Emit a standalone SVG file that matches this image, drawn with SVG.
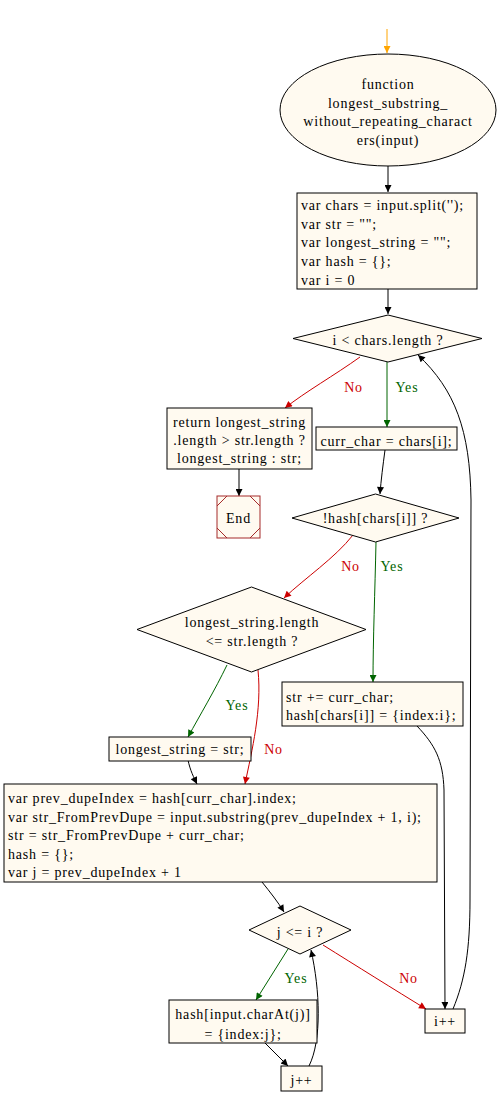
<svg xmlns="http://www.w3.org/2000/svg" width="497" height="1105" viewBox="0 0 497 1105">
<style>
text{font-family:"Liberation Serif","Times New Roman",serif;font-size:14px;letter-spacing:0.8px;fill:#000}
.n{fill:#fffaf0;stroke:#000;stroke-width:1}
.c{text-anchor:middle}
.e{fill:none;stroke:#000;stroke-width:1}
.r{stroke:#cc0000}
.g{stroke:#006400}
.o{stroke:#ffa500}
.lr{fill:#cc0000}
.lg{fill:#006400}
</style>
<defs>
<marker id="ak" viewBox="0 0 10 10" refX="10" refY="5" markerWidth="10" markerHeight="7" orient="auto" markerUnits="userSpaceOnUse"><path d="M0,0 L10,5 L0,10 z" fill="#000"/></marker>
<marker id="ar" viewBox="0 0 10 10" refX="10" refY="5" markerWidth="10" markerHeight="7" orient="auto" markerUnits="userSpaceOnUse"><path d="M0,0 L10,5 L0,10 z" fill="#cc0000"/></marker>
<marker id="ag" viewBox="0 0 10 10" refX="10" refY="5" markerWidth="10" markerHeight="7" orient="auto" markerUnits="userSpaceOnUse"><path d="M0,0 L10,5 L0,10 z" fill="#006400"/></marker>
<marker id="ao" viewBox="0 0 10 10" refX="10" refY="5" markerWidth="10" markerHeight="7" orient="auto" markerUnits="userSpaceOnUse"><path d="M0,0 L10,5 L0,10 z" fill="#ffa500"/></marker>
</defs>
<rect width="497" height="1105" fill="#fff"/>
<g id="connectors">
<path class="e o" d="M387,29 L387,53" marker-end="url(#ao)"/>
<path class="e" d="M388,166 L388,192" marker-end="url(#ak)"/>
<path class="e" d="M388,289 L388,314" marker-end="url(#ak)"/>
<path class="e r" d="M360,357 C335,375 305,392 285,408" marker-end="url(#ar)"/>
<path class="e g" d="M387,362 L387,427" marker-end="url(#ag)"/>
<path class="e" d="M239,469 L239,496" marker-end="url(#ak)"/>
<path class="e" d="M385,450 C383,465 381,480 380,494" marker-end="url(#ak)"/>
<path class="e r" d="M353,535 C335,558 305,578 284,598" marker-end="url(#ar)"/>
<path class="e g" d="M376,542 C375,590 373,640 373,682" marker-end="url(#ag)"/>
<path class="e g" d="M227,665 C215,690 200,715 188,737" marker-end="url(#ag)"/>
<path class="e r" d="M258,670 C262,710 252,750 245,784" marker-end="url(#ar)"/>
<path class="e" d="M188,760 C190,770 194,778 197,784" marker-end="url(#ak)"/>
<path class="e" d="M417,726 C435,745 443,760 444,790 L445,1009" marker-end="url(#ak)"/>
<path class="e" d="M262,882 C270,892 278,902 284,912" marker-end="url(#ak)"/>
<path class="e g" d="M288,949 L256,1000" marker-end="url(#ag)"/>
<path class="e r" d="M323,945 C355,965 395,990 426,1009" marker-end="url(#ar)"/>
<path class="e" d="M265,1043 L288,1066" marker-end="url(#ak)"/>
<path class="e" d="M309,1066 C322,1040 320,990 311,950" marker-end="url(#ak)"/>
<path class="e" d="M453,1009 C465,980 470,950 470,900 L471,500 C470,430 455,390 418,355" marker-end="url(#ak)"/>
<text class="c lr" x="353.5" y="392">No</text>
<text class="c lg" x="407" y="392">Yes</text>
<text class="c lr" x="350.5" y="571">No</text>
<text class="c lg" x="392" y="571">Yes</text>
<text class="c lg" x="237" y="710">Yes</text>
<text class="c lr" x="273.5" y="754">No</text>
<text class="c lg" x="296" y="983">Yes</text>
<text class="c lr" x="408.5" y="983">No</text>
</g>
<g id="start">
<ellipse class="n" cx="388" cy="110" rx="108" ry="56"/>
<text class="c" x="388" y="89">function</text>
<text class="c" x="388" y="108">longest_substring_</text>
<text class="c" x="388" y="126">without_repeating_charact</text>
<text class="c" x="388" y="145">ers(input)</text>
</g>
<g id="init">
<rect class="n" x="297" y="193" width="180" height="96"/>
<text x="301" y="210">var chars = input.split('');</text>
<text x="301" y="229">var str = "";</text>
<text x="301" y="247">var longest_string = "";</text>
<text x="301" y="266">var hash = {};</text>
<text x="301" y="285">var i = 0</text>
</g>
<g id="cond1">
<polygon class="n" points="388,315 482,338.5 388,362 293,338.5"/>
<text class="c" x="388" y="345">i &lt; chars.length ?</text>
</g>
<g id="ret">
<rect class="n" x="167" y="408" width="145" height="61"/>
<text class="c" x="239.5" y="427">return longest_string</text>
<text class="c" x="239.5" y="445">.length &gt; str.length ?</text>
<text class="c" x="239.5" y="463">longest_string : str;</text>
</g>
<g id="end">
<rect x="217" y="496" width="43" height="42" fill="#fffaf0" stroke="#a52a2a"/>
<path d="M217,506 L227,496 M250,496 L260,506 M260,528 L250,538 M227,538 L217,528" fill="none" stroke="#a52a2a"/>
<text class="c" x="238.5" y="523">End</text>
</g>
<g id="currchar">
<rect class="n" x="316" y="427" width="141" height="23"/>
<text class="c" x="386.5" y="446">curr_char = chars[i];</text>
</g>
<g id="cond2">
<polygon class="n" points="375.5,494 459,518 375.5,542 292,518"/>
<text class="c" x="375.5" y="523">!hash[chars[i]] ?</text>
</g>
<g id="cond3">
<polygon class="n" points="251.5,587 366,629.5 251.5,672 137,629.5"/>
<text class="c" x="252" y="627">longest_string.length</text>
<text class="c" x="252" y="646">&lt;= str.length ?</text>
</g>
<g id="stradd">
<rect class="n" x="282" y="682" width="181" height="44"/>
<text x="286" y="702">str += curr_char;</text>
<text x="286" y="720">hash[chars[i]] = {index:i};</text>
</g>
<g id="longest">
<rect class="n" x="109" y="737" width="142" height="24"/>
<text class="c" x="180" y="754">longest_string = str;</text>
</g>
<g id="dupe">
<rect class="n" x="4" y="784" width="433" height="98"/>
<text x="8" y="803">var prev_dupeIndex = hash[curr_char].index;</text>
<text x="8" y="822">var str_FromPrevDupe = input.substring(prev_dupeIndex + 1, i);</text>
<text x="8" y="840">str = str_FromPrevDupe + curr_char;</text>
<text x="8" y="859">hash = {};</text>
<text x="8" y="877">var j = prev_dupeIndex + 1</text>
</g>
<g id="cond4">
<polygon class="n" points="300,906 351,930 300,954 249,930"/>
<text class="c" x="300" y="937">j &lt;= i ?</text>
</g>
<g id="hashset">
<rect class="n" x="169" y="1000" width="148" height="43"/>
<text class="c" x="243" y="1019">hash[input.charAt(j)]</text>
<text class="c" x="243" y="1039">= {index:j};</text>
</g>
<g id="jinc">
<rect class="n" x="281" y="1066" width="41" height="25"/>
<text class="c" x="301.5" y="1085">j++</text>
</g>
<g id="iinc">
<rect class="n" x="425" y="1009" width="40" height="24"/>
<text class="c" x="445" y="1026">i++</text>
</g>
</svg>
